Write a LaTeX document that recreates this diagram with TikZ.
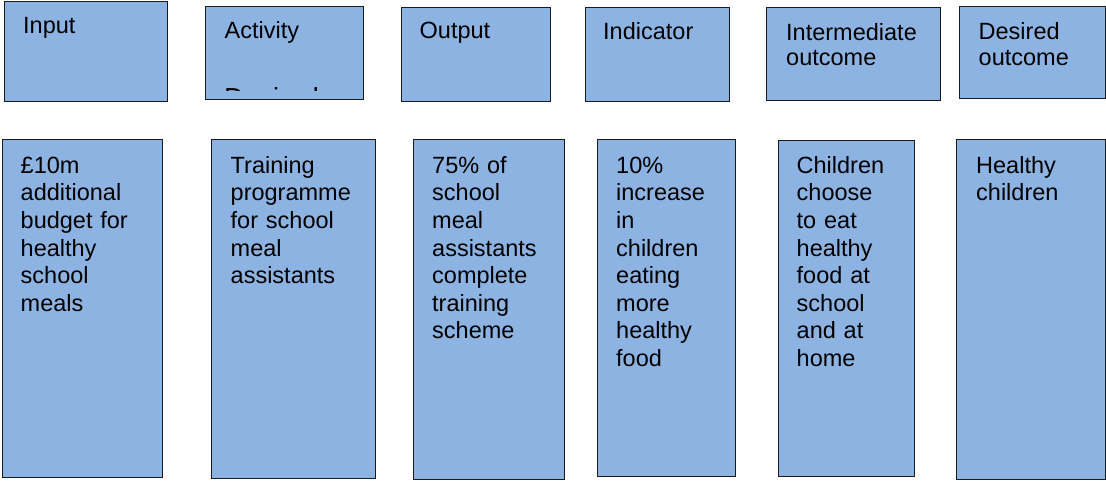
\documentclass[tikz,border=0pt]{standalone}
\usepackage{fontspec}
\setmainfont{Liberation Sans}
\definecolor{boxfill}{HTML}{8DB3E2}
\definecolor{boxline}{HTML}{1A1A1A}
\tikzset{
  box/.style={draw=boxline, fill=boxfill, line width=0.9pt, anchor=north west, inner sep=0pt},
  lbl/.style={anchor=base west, inner sep=0pt, text width=200pt, align=left,
     font=\fontsize{23.5}{27.6}\selectfont},
  toplbl/.style={lbl, font=\fontsize{23.5}{25.5}\selectfont},
}
\begin{document}
\begin{tikzpicture}[x=1pt,y=-1pt]
\useasboundingbox (0,0) rectangle (1106,480);
% top row boxes
\node[box, minimum width=163pt, minimum height=99.7pt] (t1) at (3.5,1) {};
\node[box, minimum width=158pt, minimum height=93.8pt] (t2) at (204.5,5.5) {};
\node[box, minimum width=149.5pt, minimum height=94pt] (t3) at (400.5,7) {};
\node[box, minimum width=144.5pt, minimum height=94.5pt] (t4) at (584.5,6.5) {};
\node[box, minimum width=174pt, minimum height=93pt] (t5) at (766,7) {};
\node[box, minimum width=146.5pt, minimum height=92pt] (t6) at (958.5,6) {};
% bottom row boxes
\node[box, minimum width=160.7pt, minimum height=337.7pt] (b1) at (1.5,139.3) {};
\node[box, minimum width=163.5pt, minimum height=338.7pt] (b2) at (211,139.3) {};
\node[box, minimum width=151pt, minimum height=340pt] (b3) at (413,139) {};
\node[box, minimum width=138.4pt, minimum height=336.7pt] (b4) at (596.6,139.3) {};
\node[box, minimum width=136pt, minimum height=335.7pt] (b5) at (778,140.3) {};
\node[box, minimum width=149pt, minimum height=339.7pt] (b6) at (956,139.3) {};
% top labels
\node[toplbl] (l1) at (23,33.3) {Input};
\node[toplbl] (l2) at (224.5,38.5) {Activity};
\node[toplbl] (l3) at (419.5,38.5) {Output};
\node[toplbl] (l4) at (603,39.3) {Indicator};
\node[toplbl, font=\fontsize{23.5}{25}\selectfont] (l5) at (786,40.7) {Intermediate\\outcome};
\node[toplbl, font=\fontsize{23.5}{26}\selectfont] (l6) at (978.5,39) {Desired\\outcome};
% clipped remnant in Activity box
\begin{scope}
\clip (205,6) rectangle (362,90);
\node[anchor=base west, inner sep=0pt, font=\fontsize{27.5}{30}\selectfont] (rem) at (224,107) {Desired};
\end{scope}
% bottom texts
\node[lbl] (x1) at (20.5,173.3) {£10m\\additional\\budget for\\healthy\\school\\meals};
\node[lbl] (x2) at (230.5,173.3) {Training\\programme\\for school\\meal\\assistants};
\node[lbl] (x3) at (432,173.3) {75\% of\\school\\meal\\assistants\\complete\\training\\scheme};
\node[lbl] (x4) at (616,173.3) {10\%\\increase\\in\\children\\eating\\more\\healthy\\food};
\node[lbl] (x5) at (796.5,173.3) {Children\\choose\\to eat\\healthy\\food at\\school\\and at\\home};
\node[lbl] (x6) at (976,173.3) {Healthy\\children};
\end{tikzpicture}
\end{document}
